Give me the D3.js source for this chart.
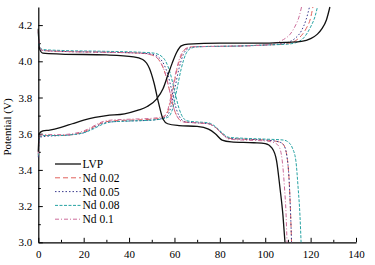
<!DOCTYPE html>
<html>
<head>
<meta charset="utf-8">
<script src="https://cdnjs.cloudflare.com/ajax/libs/d3/7.8.5/d3.min.js"></script>
<style>
  body { margin: 0; background: #fff; }
</style>
</head>
<body>
<script>
'use strict';

// capacity (mAh/g) vs potential (V)
var lvpCharge = [[0,3.50],[0.4,3.60],[2,3.615],[5,3.62],[10,3.635],[15,3.655],[20,3.675],[25,3.69],[30,3.70],[38,3.71],[44,3.73],[48,3.75],[52,3.79],[55,3.85],[57,3.92],[59,3.99],[61,4.05],[63,4.085],[66,4.095],[80,4.10],[100,4.10],[110,4.105],[116,4.11],[120,4.125],[123,4.15],[125,4.18],[127,4.23],[128.5,4.30]];
var lvpDischarge = [[0,4.18],[0.5,4.07],[2,4.045],[10,4.04],[30,4.035],[42,4.025],[46,4.01],[49,3.96],[51,3.88],[53,3.77],[55,3.68],[57,3.655],[62,3.645],[70,3.64],[75,3.625],[78,3.60],[81,3.565],[85,3.555],[95,3.55],[100,3.545],[103,3.52],[105,3.45],[106.5,3.30],[107.8,3.15],[108.7,3.0]];

var nd002Charge = [[0,3.48],[0.5,3.585],[3,3.59],[10,3.59],[15,3.595],[20,3.61],[24,3.635],[28,3.66],[32,3.67],[40,3.675],[50,3.68],[55,3.69],[57,3.72],[59,3.82],[61,3.95],[63,4.03],[65,4.07],[68,4.08],[90,4.085],[100,4.09],[108,4.095],[112,4.105],[115,4.13],[118,4.18],[120,4.24],[121,4.30]];
var nd002Discharge = [[0,4.17],[0.5,4.08],[2,4.06],[10,4.055],[30,4.05],[45,4.045],[50,4.035],[53,4.01],[56,3.93],[58,3.83],[60,3.73],[62,3.68],[64,3.665],[70,3.66],[75,3.655],[78,3.635],[81,3.60],[84,3.575],[90,3.57],[100,3.565],[106,3.555],[108,3.54],[109.5,3.48],[110.5,3.35],[111.2,3.15],[111.6,3.0]];

var nd005Charge = [[0,3.47],[0.5,3.58],[3,3.585],[10,3.59],[15,3.595],[20,3.605],[24,3.63],[28,3.655],[32,3.665],[40,3.67],[50,3.675],[56,3.69],[58,3.73],[60,3.84],[62,3.96],[64,4.04],[66,4.07],[69,4.08],[90,4.085],[100,4.09],[106,4.095],[110,4.105],[113,4.125],[116,4.17],[118,4.23],[119.5,4.30]];
var nd005Discharge = [[0,4.16],[0.5,4.08],[2,4.06],[10,4.055],[30,4.05],[45,4.045],[50,4.04],[54,4.01],[57,3.93],[59,3.83],[61,3.73],[63,3.68],[65,3.665],[70,3.66],[75,3.655],[78,3.635],[81,3.60],[84,3.575],[90,3.57],[100,3.565],[106,3.555],[108,3.54],[109.5,3.48],[110.5,3.35],[111.2,3.15],[111.6,3.0]];

var nd008Charge = [[0,3.48],[0.5,3.585],[3,3.59],[10,3.59],[15,3.595],[20,3.605],[24,3.625],[28,3.65],[32,3.665],[40,3.67],[50,3.675],[57,3.69],[59,3.73],[61,3.84],[63,3.96],[65,4.04],[67,4.07],[70,4.08],[90,4.085],[100,4.09],[110,4.095],[114,4.105],[117,4.13],[120,4.19],[122,4.25],[123,4.30]];
var nd008Discharge = [[0,4.15],[0.5,4.08],[2,4.065],[10,4.06],[30,4.055],[45,4.05],[51,4.045],[55,4.02],[58,3.94],[60,3.84],[62,3.74],[64,3.685],[66,3.67],[70,3.665],[75,3.66],[78,3.64],[81,3.605],[84,3.58],[90,3.575],[100,3.57],[108,3.565],[110,3.555],[112,3.52],[113.5,3.45],[114.5,3.30],[115.3,3.15],[115.8,3.0]];

var nd01Charge = [[0,3.49],[0.5,3.59],[3,3.595],[10,3.595],[15,3.60],[20,3.615],[24,3.64],[28,3.665],[32,3.675],[40,3.68],[50,3.685],[55,3.695],[57,3.73],[59,3.84],[61,3.96],[63,4.04],[65,4.07],[68,4.08],[90,4.085],[100,4.09],[104,4.10],[108,4.12],[111,4.15],[113,4.19],[115,4.25],[116,4.30]];
var nd01Discharge = [[0,4.17],[0.5,4.08],[2,4.06],[10,4.055],[30,4.05],[45,4.045],[50,4.035],[53,4.01],[56,3.93],[58,3.83],[60,3.73],[62,3.68],[64,3.665],[70,3.66],[75,3.655],[78,3.635],[81,3.60],[84,3.57],[90,3.565],[100,3.56],[104,3.55],[106,3.53],[107.5,3.45],[108.5,3.30],[109.2,3.15],[109.6,3.0]];

var seriesNames = ['LVP', 'Nd 0.02', 'Nd 0.05', 'Nd 0.08', 'Nd 0.1'];
var seriesColors = ['#111111', '#e2625c', '#3b3b8e', '#27a3a3', '#cc6c9a'];
var seriesDashes = [null, '5,3', '1.5,2', '3,1.5', '4,2,1,2'];
var seriesCurves = [
    [lvpCharge, lvpDischarge],
    [nd002Charge, nd002Discharge],
    [nd005Charge, nd005Discharge],
    [nd008Charge, nd008Discharge],
    [nd01Charge, nd01Discharge]
];

var xTicks = [0, 20, 40, 60, 80, 100, 120, 140];
var yTicks = [3.0, 3.2, 3.4, 3.6, 3.8, 4.0, 4.2];

var FONT = "'Liberation Serif', 'Times New Roman', Times, serif";

var width = 375;
var height = 265;

var svg = d3.select('body')
    .append('svg')
    .attr('width', width)
    .attr('height', height)
    .style('font-family', FONT);

var x = d3.scaleLinear().domain([0, 140]).range([38.3, 356]);
var y = d3.scaleLinear().domain([3.0, 4.3]).range([242.3, 7]);

// minor ticks
svg.append('g')
    .attr('transform', 'translate(0,' + y(3.0) + ')')
    .call(d3.axisBottom(x).tickValues(d3.range(10, 140, 20)).tickSize(-2.5).tickFormat(''))
    .call(function (g) { g.select('.domain').remove(); });
svg.append('g')
    .attr('transform', 'translate(' + x(0) + ',0)')
    .call(d3.axisLeft(y).tickValues([3.1, 3.3, 3.5, 3.7, 3.9, 4.1]).tickSize(-2.5).tickFormat(''))
    .call(function (g) { g.select('.domain').remove(); });

svg.append('g')
    .attr('transform', 'translate(0,' + y(3.0) + ')')
    .call(d3.axisBottom(x).tickValues(xTicks).tickSize(-4.5).tickSizeOuter(0).tickPadding(7.5).tickFormat(d3.format('d')));

svg.append('g')
    .attr('transform', 'translate(' + x(0) + ',0)')
    .call(d3.axisLeft(y).tickValues(yTicks).tickSize(-4.5).tickSizeOuter(0).tickPadding(6).tickFormat(d3.format('.1f')));

svg.selectAll('g').attr('font-family', null);
svg.selectAll('.tick line').attr('stroke', '#000').attr('stroke-width', 1);
svg.selectAll('.domain').attr('stroke', '#000').attr('stroke-width', 1.2);
svg.selectAll('.tick text').style('font-family', FONT).style('font-size', '11px');

svg.append('text')
    .attr('transform', 'translate(11,' + 127 + ') rotate(-90)')
    .attr('text-anchor', 'middle')
    .style('font-family', FONT)
    .style('font-size', '11px')
    .text('Potential (V)');

var line = d3.line()
    .x(function (d) { return x(d[0]); })
    .y(function (d) { return y(d[1]); })
    .curve(d3.curveMonotoneX);

// draw colored first, black on top
[1, 2, 3, 4, 0].forEach(function (i) {
    seriesCurves[i].forEach(function (pts) {
        svg.append('path')
            .datum(pts)
            .attr('d', line)
            .attr('fill', 'none')
            .attr('stroke', seriesColors[i])
            .attr('stroke-width', i === 0 ? 1.3 : 1)
            .attr('stroke-dasharray', seriesDashes[i]);
    });
});

var legend = svg.append('g');
seriesNames.forEach(function (name, i) {
    var ly = 164 + i * 13.8;
    legend.append('line')
        .attr('x1', 55).attr('x2', 81)
        .attr('y1', ly).attr('y2', ly)
        .attr('stroke', seriesColors[i])
        .attr('stroke-width', i === 0 ? 1.3 : 1)
        .attr('stroke-dasharray', seriesDashes[i]);
    legend.append('text')
        .attr('x', 82.5)
        .attr('y', ly + 4)
        .style('font-family', FONT)
        .style('font-size', '11.5px')
        .text(name);
});
</script>
</body>
</html>
